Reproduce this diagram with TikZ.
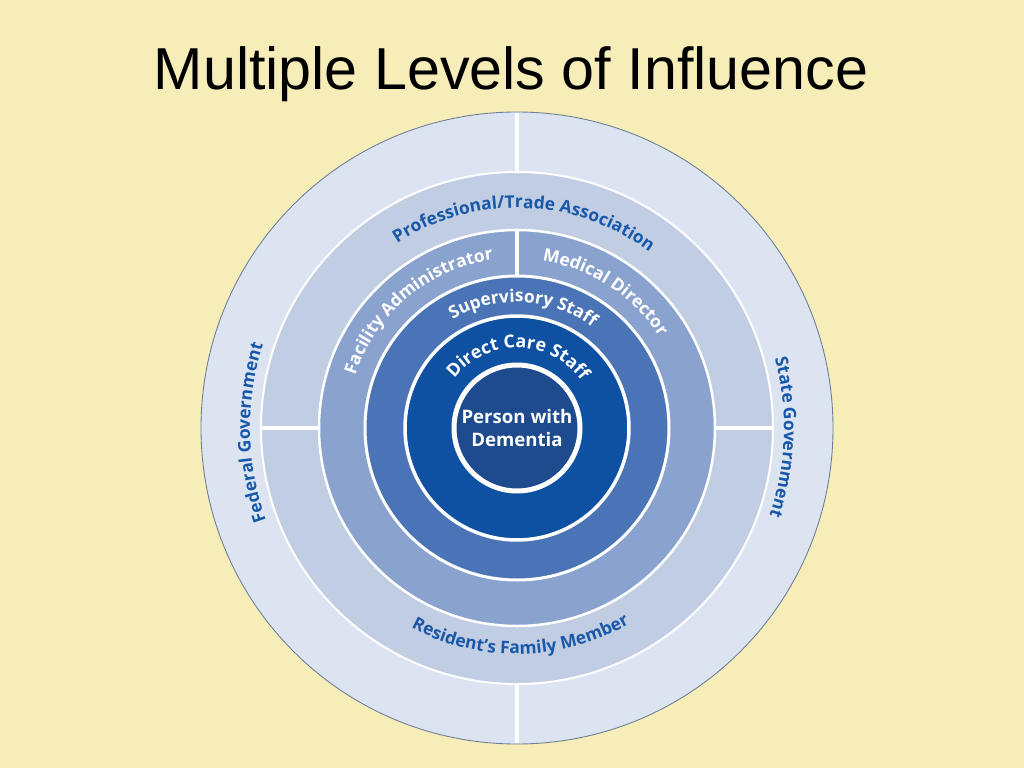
\documentclass[tikz,border=0pt]{standalone}
\usepackage{fontspec}
\usepackage{tikz}
\usetikzlibrary{decorations.text}
\setmainfont{Open Sans}
\newfontfamily\titlefont{Liberation Sans}
\definecolor{paper}{HTML}{F6EDB8}
\definecolor{ringone}{HTML}{DDE4F1}
\definecolor{ringtwo}{HTML}{C1CDE3}
\definecolor{ringthree}{HTML}{8AA2CE}
\definecolor{ringfour}{HTML}{4B74B6}
\definecolor{ringfive}{HTML}{0E50A2}
\definecolor{core}{HTML}{1D4B8D}
\definecolor{rim}{HTML}{6E7F95}
\definecolor{labelblue}{HTML}{1858A8}
\newcommand{\bluelabel}{\bfseries\fontsize{9.9}{11}\selectfont\color{labelblue}}
\newcommand{\whitelabel}{\bfseries\fontsize{9.9}{11}\selectfont\color{white}}
\newcommand{\carelabel}{\bfseries\fontsize{10.2}{12}\selectfont\color{white}}
\newcommand{\biglabel}{\bfseries\fontsize{10.6}{13.6}\selectfont\color{white}}

\begin{document}
\begin{tikzpicture}[x=0.02cm,y=0.02cm,
    sep/.style={white,line width=0.08cm},
    ringtext/.style={decorate,decoration={text along path,text align=center,text={#1}}}]
  % background
  \fill[paper] (-517,-340) rectangle (507,428);
  % title
  \node[anchor=base] (title) at (-6,338) {\titlefont\fontsize{33.7}{40}\selectfont Multiple Levels of Influence};
  % rings, outside in
  \filldraw[fill=ringone,draw=rim,line width=0.5pt] (0,0) circle (316);
  \filldraw[fill=ringtwo,draw=white,line width=0.04cm] (0,0) circle (256);
  \filldraw[fill=ringthree,draw=white,line width=0.05cm] (0,0) circle (198);
  \filldraw[fill=ringfour,draw=white,line width=0.06cm] (0,0) circle (152);
  \filldraw[fill=ringfive,draw=white,line width=0.07cm] (0,0) circle (112);
  \filldraw[fill=core,draw=white,line width=0.1cm] (0,0) circle (63);
  % white dividers
  \draw[sep] (0,257) -- (0,315);
  \draw[sep] (0,-257) -- (0,-315);
  \draw[sep] (-255,0) -- (-199,0);
  \draw[sep] (199,0) -- (255,0);
  \draw[sep] (0,153) -- (0,197);
  % outer labels
  \path[ringtext={|\bluelabel|Federal Government}] (271:267) arc (271:91:267);
  \path[ringtext={|\bluelabel|State Government}] (88:267) arc (88:-92:267);
  \path[ringtext={|\bluelabel|Professional/Trade Association}] (178:220) arc (178:-2:220);
  \path[ringtext={|\bluelabel|Resident's Family Member}] (-179:226) arc (-179:1:226);
  % inner labels
  \path[ringtext={|\whitelabel|Facility Administrator}] (170:170) arc (170:90:170);
  \path[ringtext={|\whitelabel|Medical Director}] (90:169) arc (90:24:169);
  \path[ringtext={|\whitelabel|Supervisory Staff}] (177:126) arc (177:-3:126);
  \path[ringtext={|\carelabel|Direct Care Staff}] (179:80) arc (179:-1:80);
  \node[align=center,font=\biglabel] (person) at (0,0) {Person with\\Dementia};
\end{tikzpicture}
\end{document}
